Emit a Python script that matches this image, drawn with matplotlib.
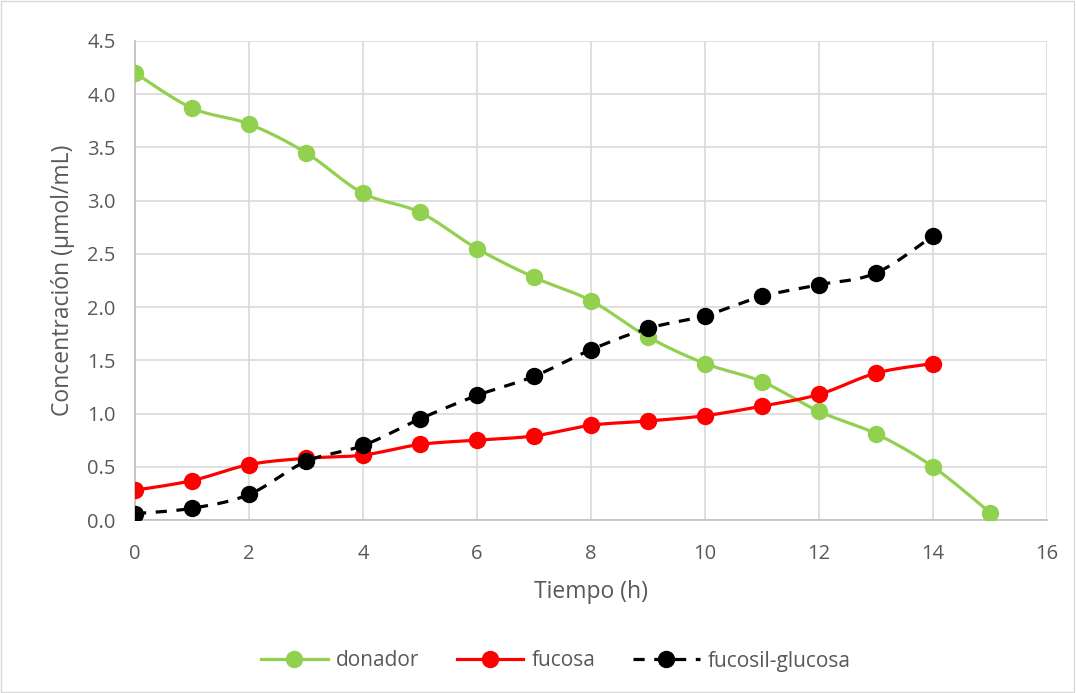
import numpy as np
import matplotlib.pyplot as plt
from matplotlib.lines import Line2D

plt.rcParams['font.family'] = ['Open Sans', 'DejaVu Sans']

tiempo_d = [0, 1, 2, 3, 4, 5, 6, 7, 8, 9, 10, 11, 12, 13, 14, 15]
donador = [4.20, 3.87, 3.72, 3.45, 3.07, 2.89, 2.55, 2.28, 2.06, 1.72, 1.47, 1.30, 1.02, 0.81, 0.50, 0.07]
tiempo = [0, 1, 2, 3, 4, 5, 6, 7, 8, 9, 10, 11, 12, 13, 14]
fucosa = [0.28, 0.37, 0.52, 0.58, 0.61, 0.71, 0.75, 0.79, 0.89, 0.93, 0.98, 1.07, 1.18, 1.38, 1.47]
fucosil = [0.06, 0.11, 0.24, 0.55, 0.70, 0.95, 1.17, 1.35, 1.60, 1.80, 1.92, 2.10, 2.21, 2.32, 2.67]


def smooth(x, y, n=20):
    # Excel-style smoothed line: cubic bezier through the points
    x = np.asarray(x, float)
    y = np.asarray(y, float)
    px = np.concatenate([[x[0]], x, [x[-1]]])
    py = np.concatenate([[y[0]], y, [y[-1]]])
    t = np.linspace(0, 1, n)[:, None]
    xs, ys = [], []
    for i in range(len(x) - 1):
        p0 = np.array([px[i + 1], py[i + 1]])
        p3 = np.array([px[i + 2], py[i + 2]])
        c1 = p0 + (np.array([px[i + 2], py[i + 2]]) - np.array([px[i], py[i]])) / 6
        c2 = p3 - (np.array([px[i + 3], py[i + 3]]) - np.array([px[i + 1], py[i + 1]])) / 6
        b = ((1 - t) ** 3) * p0 + 3 * ((1 - t) ** 2) * t * c1 + 3 * (1 - t) * t ** 2 * c2 + t ** 3 * p3
        xs.append(b[:, 0])
        ys.append(b[:, 1])
    return np.concatenate(xs), np.concatenate(ys)


fig = plt.figure(figsize=(10.76, 6.93), dpi=100)
ax = fig.add_axes([135 / 1076, 1 - 520 / 693, 912 / 1076, 479 / 693])

green = '#92d050'
red = '#ff0000'
ms = 11.5
lw = 2.3
dash = (0, (3.5, 3))

sx, sy = smooth(tiempo_d, donador)
ax.plot(sx, sy, color=green, lw=lw, zorder=3)
ax.plot(tiempo_d, donador, 'o', color=green, ms=ms, zorder=4)
sx, sy = smooth(tiempo, fucosa)
ax.plot(sx, sy, color=red, lw=lw, zorder=3)
ax.plot(tiempo, fucosa, 'o', color=red, ms=ms, zorder=4)
sx, sy = smooth(tiempo, fucosil)
ax.plot(sx, sy, color='black', lw=lw, ls=dash, zorder=5)
ax.plot(tiempo, fucosil, 'o', color='black', ms=ms, zorder=6)

ax.set_xlim(0, 16)
ax.set_ylim(0, 4.5)
ax.set_xticks(range(0, 17, 2))
ax.set_yticks(np.arange(0, 4.51, 0.5))
ax.set_yticklabels([f'{v:.1f}' for v in np.arange(0, 4.51, 0.5)])
ax.grid(True, color='#d9d9d9', lw=1.2)
ax.set_axisbelow(True)
for s in ['top', 'right']:
    ax.spines[s].set_visible(False)
for s in ['left', 'bottom']:
    ax.spines[s].set_color('#bfbfbf')
    ax.spines[s].set_linewidth(1.2)
ax.tick_params(length=0, labelsize=14.5, labelcolor='#595959')
ax.tick_params(axis='y', pad=14)
ax.tick_params(axis='x', pad=17)
ax.set_xlabel('Tiempo (h)', fontsize=16.5, color='#595959', labelpad=12)
ax.set_ylabel('Concentración (µmol/mL)', fontsize=16.5, color='#595959', labelpad=9)

handles = [
    Line2D([], [], color=green, lw=lw, marker='o', ms=ms),
    Line2D([], [], color=red, lw=lw, marker='o', ms=ms),
    Line2D([], [], color='black', lw=lw, ls=dash, marker='o', ms=ms),
]
fig.legend(handles, ['donador', 'fucosa', 'fucosil-glucosa'], loc='center',
           bbox_to_anchor=(556 / 1076, 1 - 661 / 693), ncol=3, frameon=False,
           fontsize=15, labelcolor='#595959', handlelength=3.2, handletextpad=0.4,
           columnspacing=1.8)

fig.patches.append(plt.Rectangle((0.001, 0.001), 0.997, 0.997, transform=fig.transFigure,
                                 fill=False, edgecolor='#d9d9d9', lw=1))
fig.savefig('out.png', dpi=100)
